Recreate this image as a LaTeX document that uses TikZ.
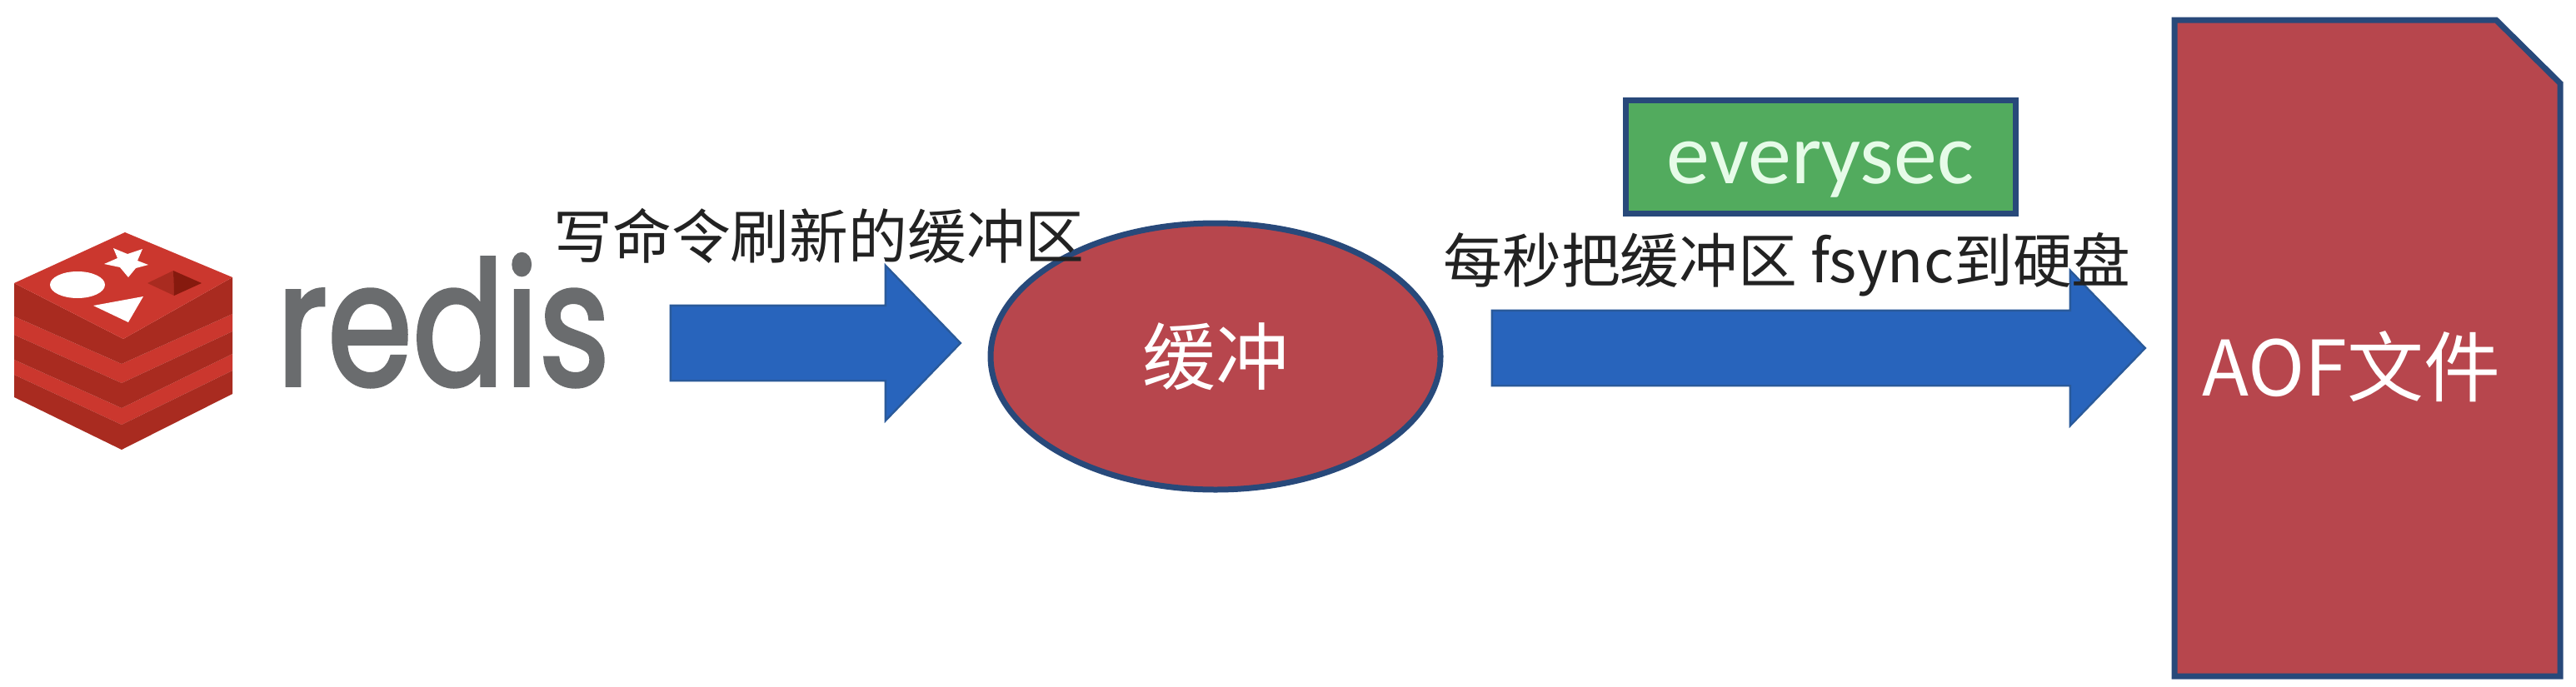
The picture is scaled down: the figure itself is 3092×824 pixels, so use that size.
\documentclass[tikz,border=0pt]{standalone}
\usepackage{fontspec}
\usetikzlibrary{shapes.arrows,shapes.geometric}
\setmainfont{Noto Sans CJK SC}
\newfontfamily\logofont[FakeStretch=0.79,FakeBold=1.8]{Poppins}
\newfontfamily\latinfont{Carlito}
\definecolor{redfill}{HTML}{B7464D}
\definecolor{edgeblue}{HTML}{28497A}
\definecolor{arrowblue}{HTML}{2864BC}
\definecolor{arrowedge}{HTML}{2A5A9A}
\definecolor{greenfill}{HTML}{52AB5E}
\definecolor{logolight}{HTML}{CB372E}
\definecolor{logodark}{HTML}{A92B20}
\definecolor{logodeep}{HTML}{861A0E}
\definecolor{logogray}{HTML}{6A6C6E}
\definecolor{greentext}{HTML}{E6FBE8}
\definecolor{labelblack}{HTML}{222222}
\tikzset{
  px/.style={x=0.25pt,y=-0.25pt},
  blockarrow/.style={single arrow,draw=arrowedge,fill=arrowblue,line width=0.6pt,inner sep=0pt,outer sep=0pt,
    text height=22pt,text depth=0pt,text width=0pt,single arrow tip angle=92,single arrow head extend=12pt,shape border rotate=0},
  logoside/.style={fill=logodark},
  logotop/.style={fill=logolight},
  blackcap/.style={text=labelblack,inner sep=0pt,font=\fontsize{17.7pt}{20pt}\selectfont},
}
\begin{document}
\begin{tikzpicture}[px]
\useasboundingbox[fill=white] (0,0) rectangle (3092,824);
% logo: bottom layer
\path[logotop] (17,432) -- (146,490) -- (279,425) -- (279,445) -- (146,510) -- (17,450) -- cycle;
\path[logoside] (17,450) -- (17,477) -- (146,540) -- (279,473) -- (279,445) -- (146,510) -- cycle;
% logo: middle layer
\path[logotop] (17,380) -- (146,437) -- (279,377) -- (279,398) -- (146,460) -- (17,402) -- cycle;
\path[logoside] (17,402) -- (17,432) -- (146,490) -- (279,425) -- (279,398) -- (146,460) -- cycle;
% logo: top layer
\path[logoside] (17,340) -- (17,380) -- (146,437) -- (279,377) -- (279,333) -- (148,407) -- cycle;
\path[logotop] (150,279) -- (279,333) -- (148,407) -- (17,340) -- cycle;
\path[fill=white] (136,298) -- (153,305) -- (171,299) -- (165,313) -- (178,318) -- (163,322) -- (154,333) -- (144,321) -- (125,317) -- (141,310) -- cycle;
\path[fill=white] (93,342) ellipse [x radius=33,y radius=16];
\path[fill=white] (112,367) -- (172,356) -- (154,387) -- cycle;
\path[fill=logodark] (177,340) -- (208,325) -- (209,355) -- cycle;
\path[fill=logodeep] (208,325) -- (242,340) -- (209,355) -- cycle;

\node[text=logogray,inner sep=0pt,anchor=base] (redis) at (532,463) {\logofont\fontsize{52pt}{60pt}\selectfont redis};

\node[draw=edgeblue,fill=redfill,line width=1.75pt,ellipse,inner sep=0pt,minimum width=135pt,minimum height=80pt,text=white,font=\fontsize{22pt}{25pt}\selectfont] (buffer) at (1459,428) {缓冲};

\node[blockarrow,minimum height=87pt,minimum width=45pt] (arrowone) at (957,412) {};
\node[blockarrow,minimum height=196pt,minimum width=45pt] (arrowtwo) at (2161,418) {};

\node[draw=edgeblue,fill=greenfill,line width=1.75pt,inner sep=0pt,minimum width=117pt,minimum height=34pt] (policy) at (2185,188) {};
\node[text=greentext,inner sep=0pt,anchor=base] (policytext) at (policy.center |- 0,220) {\latinfont\fontsize{26pt}{30pt}\selectfont everysec};

\path[fill=redfill,draw=edgeblue,line width=1.75pt,line join=miter] (2610,24) -- (2996,24) -- (3073,100) -- (3073,812) -- (2610,812) -- cycle;
\node[text=white,inner sep=0pt] (aof) at (2822,440) {\fontsize{23pt}{26pt}\selectfont AOF文件};

\node[blackcap] (labelone) at (983,283) {写命令刷新的缓冲区};
\node[blackcap] (labeltwo) at (2145,318) {每秒把缓冲区 fsync到硬盘};
\end{tikzpicture}
\end{document}
